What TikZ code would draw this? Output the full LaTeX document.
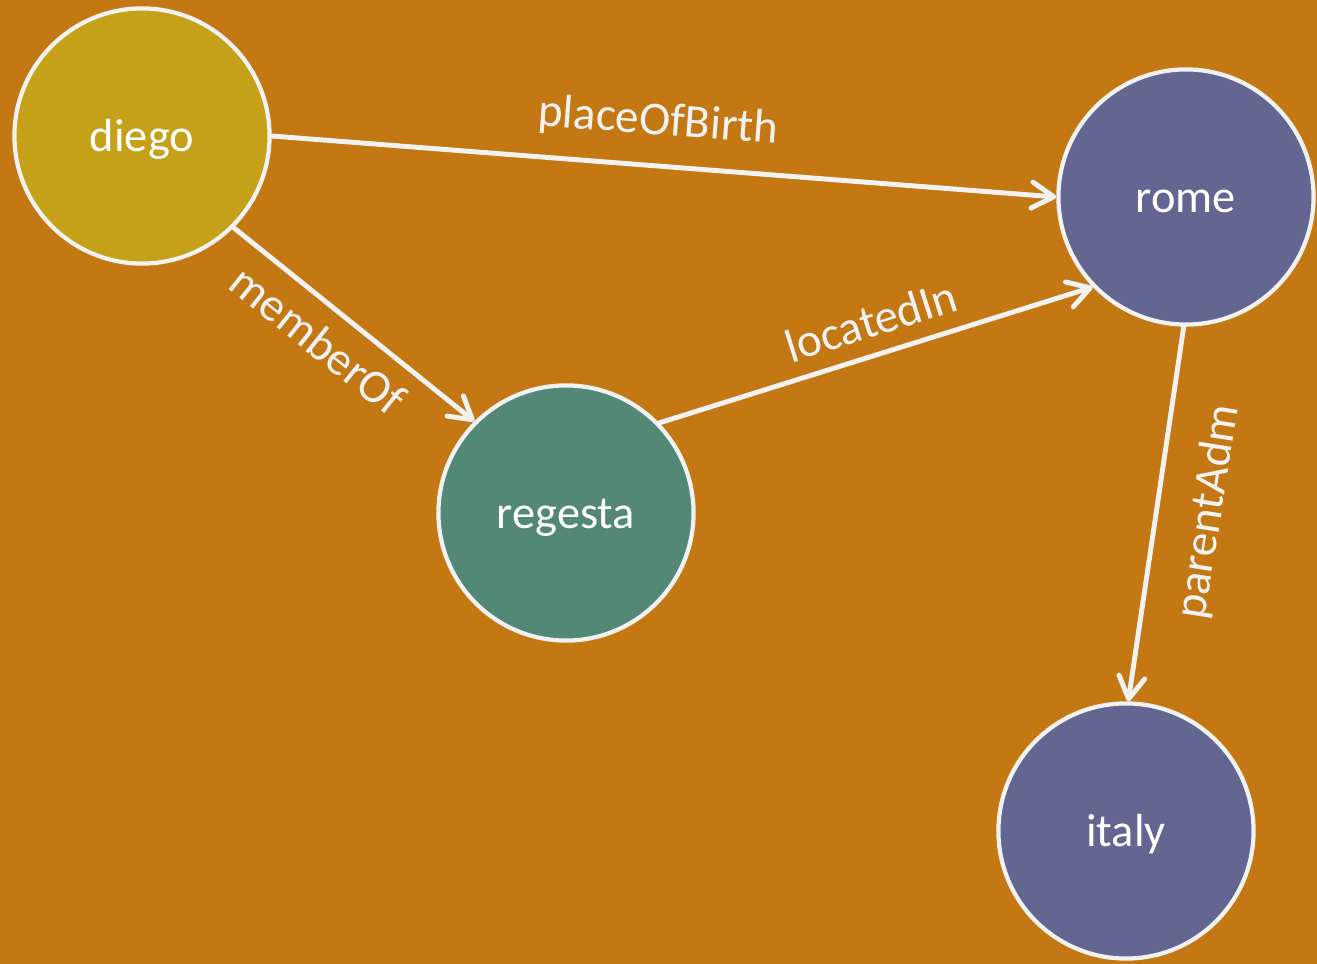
\documentclass[tikz,border=0pt]{standalone}
\usepackage{fontspec}
\setmainfont{Carlito}
\usetikzlibrary{arrows.meta}
\definecolor{bgorange}{HTML}{C47814}
\definecolor{gold}{HTML}{C4A118}
\definecolor{slate}{HTML}{626691}
\definecolor{teal}{HTML}{528875}
\definecolor{offwhite}{HTML}{F2F2F2}
\tikzset{
  entity/.style={circle, draw=offwhite, line width=1.2pt, minimum size=2.55cm,
    text=white, font=\fontsize{13.2}{15}\selectfont, inner sep=0pt,
    text height=0.98em, text depth=0.1em},
  relation/.style={draw=offwhite, line width=1.4pt, line cap=round,
    -{Straight Barb[length=0.22cm, width=0.26cm, round]}},
  rellabel/.style={text=offwhite, font=\fontsize{13.4}{15}\selectfont, inner sep=0pt}
}
\begin{document}
\begin{tikzpicture}[x=0.01cm, y=-0.01cm]
  \fill[bgorange] (0,0) rectangle (1317,964);
  \useasboundingbox (0,0) rectangle (1317,964);

  % entities
  \node[entity, fill=gold]  (diego)   at (142,136)  {diego};
  \node[entity, fill=slate] (rome)    at (1186,197) {rome};
  \node[entity, fill=teal]  (regesta) at (566,513)  {regesta};
  \node[entity, fill=slate] (italy)   at (1126,831) {italy};

  % relations
  \draw[relation] (diego.0) -- (rome.180);
  \draw[relation] (diego.-45) -- (regesta.135);
  \draw[relation] (regesta.44) -- (rome.-136);
  \draw[relation] (rome.-91) -- (italy.89);

  % relation labels
  \node[rellabel, rotate=-4.4] (lbirth)  at (658,122)  {placeOfBirth};
  \node[rellabel, rotate=-38.6] (lmember) at (318,340) {memberOf};
  \node[rellabel, rotate=17.5] (llocated) at (871,321) {locatedIn};
  \node[rellabel, rotate=81]   (lparent)  at (1209,512) {parentAdm};
\end{tikzpicture}
\end{document}
